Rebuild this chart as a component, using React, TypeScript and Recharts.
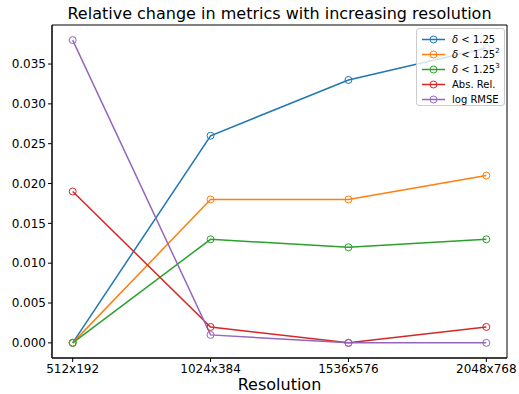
import React from 'react';
import { LineChart, Line, XAxis, YAxis, ReferenceArea, Label } from 'recharts';

const categories = ['512x192', '1024x384', '1536x576', '2048x768'];
const delta1 = [0.0, 0.026, 0.033, 0.037];
const delta2 = [0.0, 0.018, 0.018, 0.021];
const delta3 = [0.0, 0.013, 0.012, 0.013];
const absRel = [0.019, 0.002, 0.0, 0.002];
const logRmse = [0.038, 0.001, 0.0, 0.0];
const yTicks = [0, 0.005, 0.01, 0.015, 0.02, 0.025, 0.03, 0.035];

const series = [
  { key: 'd1', values: delta1, color: '#1f77b4', sup: '' , delta: true, name: '1.25' },
  { key: 'd2', values: delta2, color: '#ff7f0e', sup: '2', delta: true, name: '1.25' },
  { key: 'd3', values: delta3, color: '#2ca02c', sup: '3', delta: true, name: '1.25' },
  { key: 'abs', values: absRel, color: '#d62728', sup: '', delta: false, name: 'Abs. Rel.' },
  { key: 'rmse', values: logRmse, color: '#9467bd', sup: '', delta: false, name: 'log RMSE' },
];

const data = categories.map((c, i) => {
  const row: Record<string, number | string> = { i, label: c };
  series.forEach((s) => {
    row[s.key] = s.values[i];
  });
  return row;
});

const FONT = '"DejaVu Sans", sans-serif';
const X_DOMAIN: [number, number] = [-0.15, 3.15];
const Y_DOMAIN: [number, number] = [-0.0019, 0.0399];

function LegendBox() {
  return (
    <div
      style={{
        position: 'absolute',
        left: 416,
        top: 28,
        width: 89,
        height: 78,
        boxSizing: 'border-box',
        border: '1px solid #cccccc',
        borderRadius: 3,
        background: 'rgba(255,255,255,0.8)',
        paddingTop: 3,
        fontFamily: FONT,
        fontSize: 10,
        color: '#000',
      }}
    >
      {series.map((s) => (
        <div key={s.key} style={{ height: 15, display: 'flex', alignItems: 'center' }}>
          <svg width={35} height={15} style={{ flex: 'none', marginLeft: 0 }}>
            <line x1={5} x2={28} y1={7.5} y2={7.5} stroke={s.color} strokeWidth={1.5} />
            <circle cx={16.5} cy={7.5} r={3.5} fill="none" stroke={s.color} strokeWidth={1} />
          </svg>
          <span style={{ whiteSpace: 'nowrap', lineHeight: '15px' }}>
            {s.delta ? (
              <>
                <i>δ</i>
                {' < '}
                {s.name}
                {s.sup ? <sup style={{ fontSize: 7, verticalAlign: 'top', lineHeight: '9px' }}>{s.sup}</sup> : null}
              </>
            ) : (
              s.name
            )}
          </span>
        </div>
      ))}
    </div>
  );
}

export default function App() {
  return (
    <div
      style={{
        position: 'absolute',
        left: 0,
        top: 0,
        width: 519,
        height: 394,
        background: '#fff',
        fontFamily: FONT,
      }}
    >
      <div
        style={{
          position: 'absolute',
          left: 52,
          width: 455,
          top: 4,
          textAlign: 'center',
          fontSize: 16,
          lineHeight: 'normal',
          color: '#000',
          whiteSpace: 'nowrap',
        }}
      >
        Relative change in metrics with increasing resolution
      </div>
      <LineChart
        width={519}
        height={394}
        data={data}
        margin={{ top: 25, right: 12, bottom: 0, left: 0 }}
        style={{ fontFamily: FONT }}
      >
        <XAxis
          dataKey="i"
          type="number"
          domain={X_DOMAIN}
          ticks={[0, 1, 2, 3]}
          tickFormatter={(v: number) => categories[v]}
          allowDataOverflow
          height={36}
          tickSize={4}
          tickMargin={2}
          stroke="#000"
          tick={{ fill: '#000', fontSize: 12 }}
          interval={0}
        >
          <Label value="Resolution" position="insideBottom" offset={4} style={{ fontSize: 16, fill: '#000' }} />
        </XAxis>
        <YAxis
          type="number"
          domain={Y_DOMAIN}
          ticks={yTicks}
          tickFormatter={(v: number) => v.toFixed(3)}
          allowDataOverflow
          width={52}
          tickSize={4}
          tickMargin={2}
          stroke="#000"
          tick={{ fill: '#000', fontSize: 12 }}
          interval={0}
        />
        <ReferenceArea
          x1={X_DOMAIN[0]}
          x2={X_DOMAIN[1]}
          y1={Y_DOMAIN[0]}
          y2={Y_DOMAIN[1]}
          fill="none"
          stroke="#000"
          strokeWidth={1}
          fillOpacity={0}
        />
        {series.map((s) => (
          <Line
            key={s.key}
            dataKey={s.key}
            type="linear"
            stroke={s.color}
            strokeWidth={1.5}
            dot={{ r: 3.5, fill: 'none', stroke: s.color, strokeWidth: 1 }}
            activeDot={false}
            isAnimationActive={false}
          />
        ))}
      </LineChart>
      <LegendBox />
    </div>
  );
}
